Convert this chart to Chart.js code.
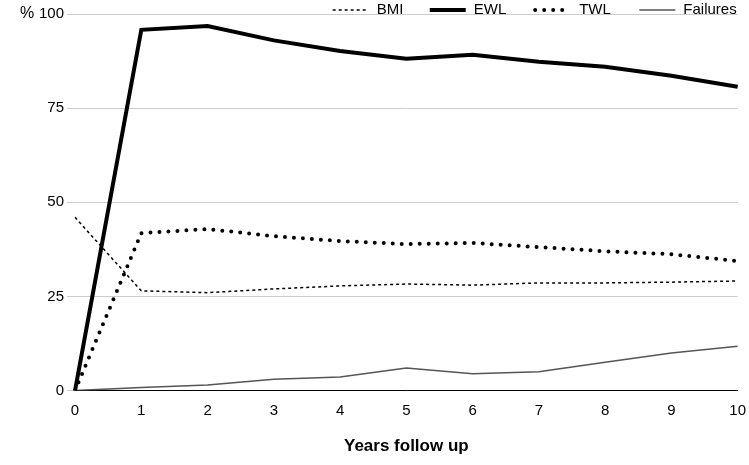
<!DOCTYPE html>
<html><head><meta charset="utf-8">
<script src="https://cdn.jsdelivr.net/npm/chart.js@4"></script>
<style>html,body{margin:0;background:#fff}#w{width:749px;height:465px}</style></head>
<body><div id="w"><canvas id="c"></canvas></div>
<script>
const years = [0,1,2,3,4,5,6,7,8,9,10];
const bmi = [46,26.5,26,27,27.8,28.3,28,28.6,28.6,28.8,29.1];
const ewl = [0,95.8,96.8,93,90.2,88.1,89.2,87.3,86,83.6,80.7];
const twl = [0,41.8,42.9,41,39.7,38.9,39.2,38.1,37,36.2,34.4];
const failures = [0,0.8,1.5,3,3.6,6,4.5,5,7.5,10,11.8];
const yTicks = [0,25,50,75,100];
const legendX = [390,490,595,710];
Chart.defaults.font.family = "'Liberation Sans', Arial, sans-serif";
Chart.defaults.color = '#000';
const extras = {id:'extras', afterDraw(ch){const c=ch.ctx;c.save();
  c.font="16px 'Liberation Sans'";c.fillStyle='#000';c.textBaseline='middle';
  c.fillText('%',20,ch.scales.y.getPixelForValue(100));
  c.font="15px 'Liberation Sans'";
  ch.data.datasets.forEach((d,i)=>{const tx=legendX[i];c.textAlign='left';
    const w=c.measureText(d.label).width; const x1=tx-w/2;
    c.fillStyle='#000';c.fillText(d.label,x1,10);
    c.beginPath();c.strokeStyle=d.borderColor;c.lineWidth=d.borderWidth;c.lineCap=d.borderCapStyle||'butt';
    c.setLineDash(d.borderDash||[]);c.moveTo(x1-44,10);c.lineTo(x1-8,10);c.stroke();c.setLineDash([]);});
  c.restore();}};
new Chart(document.getElementById('c'), {
  type:'line',
  data:{labels:years, datasets:[
    {label:'BMI', data:bmi, borderColor:'#000', borderWidth:1.5, borderDash:[3,3], pointRadius:0, tension:0},
    {label:'EWL', data:ewl, borderColor:'#000', borderWidth:4, pointRadius:0, tension:0},
    {label:'TWL', data:twl, borderColor:'#000', borderWidth:4, borderDash:[0,9], borderCapStyle:'round', pointRadius:0, tension:0},
    {label:'Failures', data:failures, borderColor:'#555', borderWidth:1.5, pointRadius:0, tension:0}
  ]},
  options:{responsive:true, maintainAspectRatio:false, animation:false,
    layout:{padding:{left:36,right:8,top:14,bottom:4}},
    plugins:{legend:{display:false}, tooltip:{enabled:false}},
    scales:{
      x:{type:'category', grid:{display:false}, border:{color:'#000'}, ticks:{font:{size:15}},
         title:{display:true, text:'Years follow up', font:{size:17, weight:'bold'}, padding:{top:14}}},
      y:{min:0,max:100, afterBuildTicks(a){a.ticks=yTicks.map(v=>({value:v}));},
         grid:{color:'#ccc'}, border:{display:false}, ticks:{font:{size:15}}}
    }},
  plugins:[extras]
});
</script></body></html>
